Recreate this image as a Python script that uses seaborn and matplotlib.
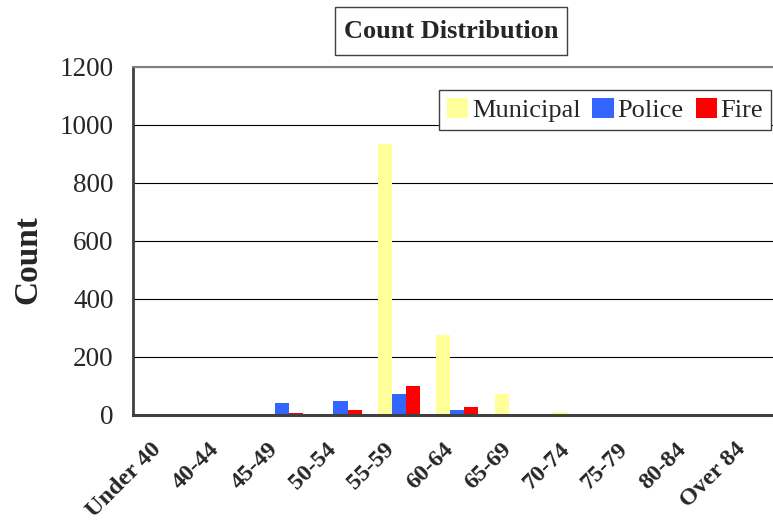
import pandas as pd
import seaborn as sns
import matplotlib.pyplot as plt
import matplotlib.transforms as mtransforms
from matplotlib.patches import Rectangle

age_groups = ['Under 40', '40-44', '45-49', '50-54', '55-59', '60-64',
              '65-69', '70-74', '75-79', '80-84', 'Over 84']
municipal = [0, 0, 0, 5, 935, 277, 73, 10, 4, 4, 0]
police = [0, 0, 42, 48, 73, 18, 4, 4, 0, 0, 0]
fire = [0, 0, 8, 18, 100, 28, 4, 0, 0, 0, 0]
series = ['Municipal', 'Police', 'Fire']
colors = ['#FFFF99', '#3366FF', '#FF0000']


def make_frame():
    rows = []
    for name, vals in zip(series, [municipal, police, fire]):
        for g, v in zip(age_groups, vals):
            rows.append({'group': g, 'count': v, 'series': name})
    return pd.DataFrame(rows)


def main():
    sns.set_style('white')
    plt.rcParams['font.family'] = ['Liberation Serif', 'DejaVu Serif']

    df = make_frame()
    fig = plt.figure(figsize=(7.73, 5.27), dpi=100)
    ax = fig.add_axes([133 / 773, 112 / 527, 640 / 773, 348 / 527])

    sns.barplot(data=df, x='group', y='count', hue='series', order=age_groups,
                hue_order=series, palette=colors, width=0.72, saturation=1,
                linewidth=0, ax=ax)

    ax.set_ylim(0, 1200)
    ax.set_xlim(-0.55, 10.4)
    ax.set_yticks(range(0, 1201, 200))
    ax.yaxis.grid(True, color='black', lw=0.8)
    ax.set_axisbelow(True)
    ax.tick_params(axis='both', length=0)
    ax.tick_params(axis='y', labelsize=19.5, pad=14)
    ax.set_xticks(range(len(age_groups)))
    ax.set_xticklabels(age_groups, rotation=45, ha='right', rotation_mode='anchor',
                       fontsize=17.5, fontweight='bold')
    ax.tick_params(axis='x', pad=17)
    # nudge the rotated labels left, like the original
    shift = mtransforms.ScaledTranslation(-15 / 100, 0, fig.dpi_scale_trans)
    for lab in ax.get_xticklabels():
        lab.set_transform(lab.get_transform() + shift)
    ax.set_xlabel('')
    ax.set_ylabel('')

    ax.spines['right'].set_visible(False)
    ax.spines['top'].set_color('#808080')
    ax.spines['top'].set_linewidth(1.5)
    ax.spines['left'].set_color('#404040')
    ax.spines['left'].set_linewidth(2)
    ax.spines['bottom'].set_color('#404040')
    ax.spines['bottom'].set_linewidth(2.2)

    fig.text(0.036, 0.507, 'Count', rotation=90, ha='center', va='center',
             fontsize=24, fontweight='bold')

    # title in a box
    fig.patches.append(Rectangle((335 / 773, 1 - 55 / 527), 232 / 773, 48 / 527,
                                 transform=fig.transFigure, facecolor='white',
                                 edgecolor='#404040', lw=1))
    fig.text(451 / 773, 1 - 31 / 527, 'Count Distribution', ha='center', va='center',
             fontsize=19, fontweight='bold')

    handles, labels = ax.get_legend_handles_labels()
    ax.legend(handles, labels, ncol=3, loc='upper left',
              bbox_to_anchor=(439 / 773, 1 - 90 / 527),
              bbox_transform=fig.transFigure, borderaxespad=0,
              fontsize=19, frameon=True, fancybox=False, edgecolor='#404040',
              framealpha=1, handlelength=0.8, handleheight=0.8,
              handletextpad=0.15, columnspacing=0.45, borderpad=0.3)
    ax.get_legend().get_frame().set_linewidth(1)

    fig.savefig('out.png', dpi=100)


if __name__ == '__main__':
    main()
